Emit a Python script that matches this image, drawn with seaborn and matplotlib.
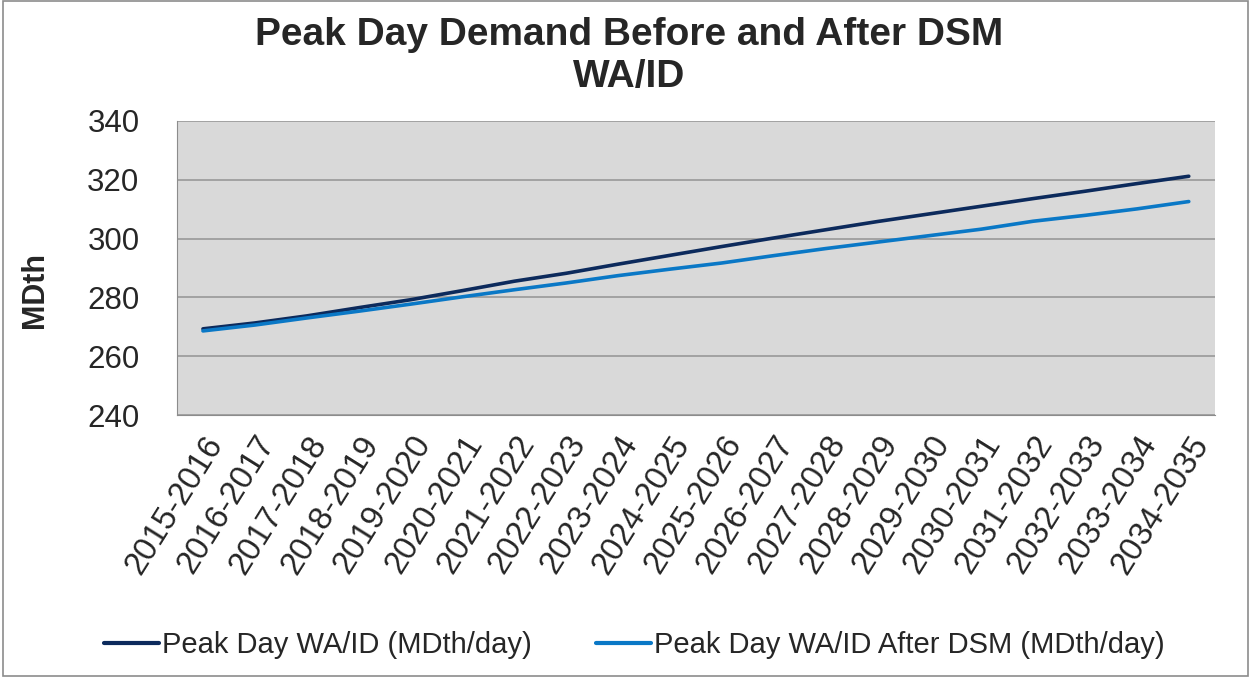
import matplotlib
matplotlib.use("Agg")
import matplotlib.pyplot as plt
import seaborn as sns
import pandas as pd
import numpy as np
from matplotlib.ticker import FixedLocator, NullFormatter
from matplotlib.lines import Line2D

years = [f"{y}-{y+1}" for y in range(2015, 2035)]
peak_day = [269.3, 271.3, 273.7, 276.5, 279.2, 282.3, 285.5, 288.2, 291.3, 294.3,
            297.3, 300.2, 303.0, 305.8, 308.4, 311.0, 313.6, 316.1, 318.7, 321.2]
peak_after_dsm = [268.6, 270.6, 273.0, 275.3, 277.7, 280.2, 282.6, 284.9, 287.4, 289.6,
                  291.7, 294.2, 296.6, 298.8, 301.0, 303.2, 305.9, 307.9, 310.1, 312.6]
series_names = ["Peak Day WA/ID (MDth/day)", "Peak Day WA/ID After DSM (MDth/day)"]
colors = ["#0c2a5c", "#0a78c6"]

sns.set_style("white")
plt.rcParams['font.family'] = ['Liberation Sans', 'DejaVu Sans']

df = pd.DataFrame({
    "idx": list(range(len(years))) * 2,
    "value": peak_day + peak_after_dsm,
    "series": [series_names[0]] * len(years) + [series_names[1]] * len(years),
})

fig = plt.figure(figsize=(12.51, 6.77), dpi=100)
ax = fig.add_axes([0.1415, 0.387, 0.8295, 0.4343])
ax.set_facecolor("#d9d9d9")

sns.lineplot(data=df, x="idx", y="value", hue="series", palette=colors,
             linewidth=2.6, ax=ax, legend=False)

ax.set_xlim(-0.5, len(years) - 0.5)
ax.set_ylim(240, 340)
ax.set_yticks(np.arange(240, 341, 20))
ax.yaxis.grid(True, color="#999999", linewidth=1.2)
ax.set_axisbelow(True)
ax.set_xticks(range(len(years)))
ax.set_xticklabels(years, rotation=58, ha="right", rotation_mode="anchor", fontsize=23.5)
ax.tick_params(axis="x", length=0, pad=11)
ax.xaxis.set_minor_locator(FixedLocator(np.arange(-0.5, len(years), 1.0)))
ax.xaxis.set_minor_formatter(NullFormatter())
ax.tick_params(axis="x", which="minor", length=7, color="#8c8c8c", direction="out")
ax.tick_params(axis="y", labelsize=22.5, length=8, color="#8c8c8c", direction="out", pad=19)
for s in ["top", "right"]:
    ax.spines[s].set_visible(False)
for s in ["left", "bottom"]:
    ax.spines[s].set_color("#8c8c8c")
ax.set_xlabel("")
ax.set_ylabel("MDth", fontsize=22, fontweight="bold")
ax.yaxis.set_label_coords(-0.122, 0.425)

fig.text(0.503, 0.948, "Peak Day Demand Before and After DSM", ha="center", va="center",
         fontsize=28, fontweight="bold")
fig.text(0.503, 0.886, "WA/ID", ha="center", va="center", fontsize=28, fontweight="bold")

handles = [Line2D([], [], color=c, linewidth=3) for c in colors]
fig.legend(handles, series_names, loc="center", bbox_to_anchor=(0.507, 0.047), ncol=2,
           frameon=False, fontsize=21, handlelength=1.9, handletextpad=0.1, columnspacing=2.2)

border = plt.Rectangle((0.002, 0.002), 0.996, 0.996, transform=fig.transFigure,
                       fill=False, edgecolor="#8c8c8c", linewidth=1.2)
fig.patches.append(border)

fig.savefig("out.png", dpi=100)
